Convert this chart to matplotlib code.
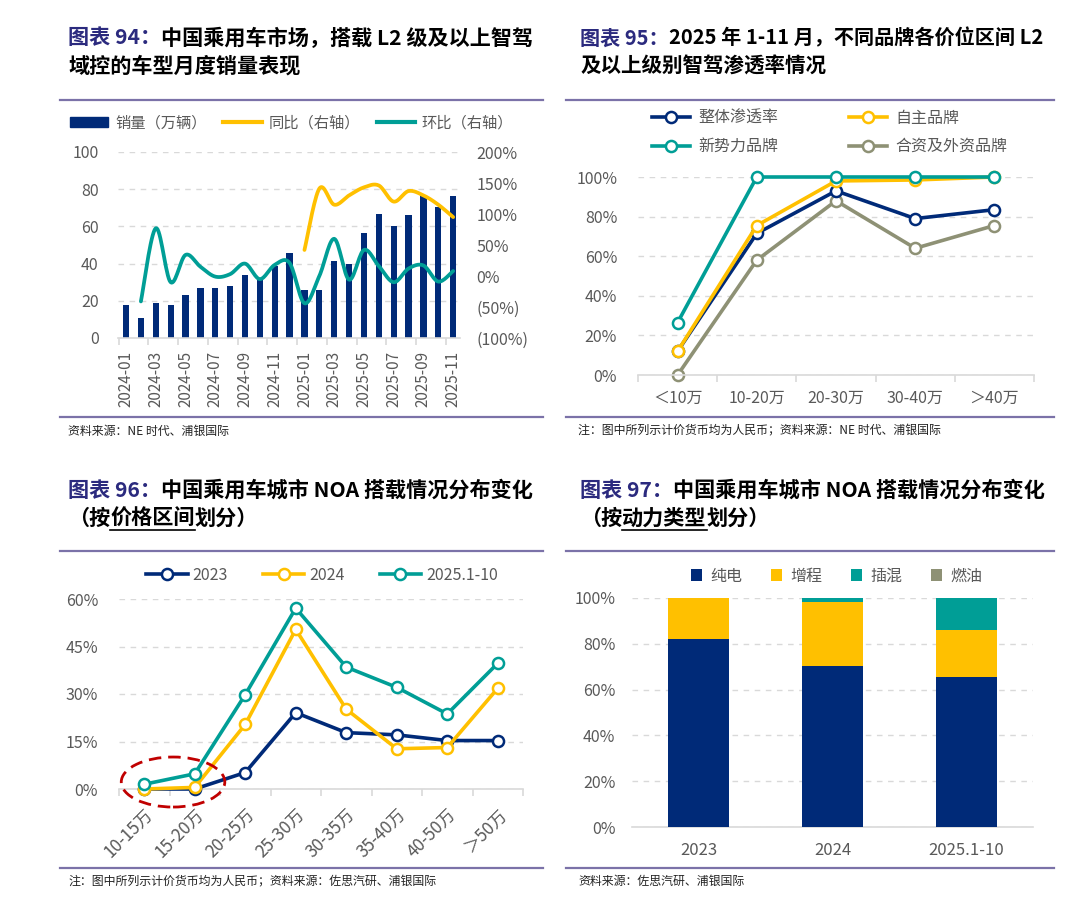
import numpy as np
import matplotlib
matplotlib.use('Agg')
import matplotlib.pyplot as plt
from matplotlib.patches import Ellipse, Patch
from matplotlib.lines import Line2D
from matplotlib.ticker import FuncFormatter

plt.rcParams['font.family'] = ['Noto Sans CJK SC', 'DejaVu Sans']
plt.rcParams['axes.unicode_minus'] = False

# ---- data: chart 94 (monthly sales, yoy / mom on right axis) ----
months = ['2024-01', '2024-02', '2024-03', '2024-04', '2024-05', '2024-06', '2024-07', '2024-08',
          '2024-09', '2024-10', '2024-11', '2024-12', '2025-01', '2025-02', '2025-03', '2025-04',
          '2025-05', '2025-06', '2025-07', '2025-08', '2025-09', '2025-10', '2025-11']
sales = [18, 11, 19, 17.5, 23, 27, 27, 28, 34, 32, 38.5, 45.5,
         26, 26, 41.5, 40, 56.5, 66.5, 60, 66, 77, 70.5, 76.5]
yoy = [None] * 12 + [42, 141, 115, 130, 143, 146, 120, 137, 130, 115, 95]
mom = [None, -41, 77, -10, 34, 15, -1, 3, 20, -5, 18, 21,
       -44, 0, 60, -6, 42, 16, -10, 12, 17, -9, 8]

# ---- data: chart 95 (L2+ penetration by price band) ----
price_bands = ['＜10万', '10-20万', '20-30万', '30-40万', '＞40万']
overall = [12, 71.5, 93, 79, 83.5]
domestic = [12, 75.5, 98, 98.5, 100]
new_forces = [26.5, 100, 100, 100, 100]
jv_foreign = [0, 58, 88, 64, 75.5]

# ---- data: chart 96 (city NOA by price range) ----
price_ranges = ['10-15万', '15-20万', '20-25万', '25-30万', '30-35万', '35-40万', '40-50万', '＞50万']
noa_2023 = [0, 0, 5.2, 24.1, 17.8, 17.1, 15.3, 15.3]
noa_2024 = [0, 0.5, 20.4, 50.4, 25.2, 12.7, 13.1, 31.8]
noa_2025 = [1.5, 4.8, 29.8, 57.1, 38.5, 32.1, 23.7, 39.7]

# ---- data: chart 97 (city NOA by powertrain) ----
periods = ['2023', '2024', '2025.1-10']
bev = [82.1, 70.3, 65.5]
erev = [17.9, 28.0, 20.4]
phev = [0, 1.7, 13.9]
ice = [0, 0, 0.2]

NAVY = '#002A78'
YELLOW = '#FFC000'
TEAL = '#009E96'
OLIVE = '#8E9175'
GRID = '#D9D9D9'
TICK = '#595959'
TITLE_BLUE = '#2B2A7E'
SEP = '#7B72A8'

W, H = 1080, 923
fig = plt.figure(figsize=(W / 100, H / 100), dpi=100)
fig.patch.set_facecolor('white')


def rect(l, t, r, b):
    return [l / W, 1 - b / H, (r - l) / W, (b - t) / H]


def hline(x0, x1, y, color=SEP, lw=1.6):
    fig.add_artist(Line2D([x0 / W, x1 / W], [1 - y / H] * 2, color=color, lw=lw))


def put_title(x, y, parts, size=15.2):
    r = fig.canvas.get_renderer()
    for s, color, under in parts:
        t = fig.text(x / W, 1 - y / H, s, fontsize=size, fontweight='bold', color=color,
                     va='center', ha='left')
        bb = t.get_window_extent(r)
        if under:
            hline(x, x + bb.width, y + 12, color=color, lw=1.2)
        x += bb.width


def footer(x, y, s):
    fig.text(x / W, 1 - y / H, s, fontsize=8.6, color='#222222', va='center', ha='left')


def smooth(x, y, n=16):
    # catmull-rom curve through the points, like excel's smoothed line
    p = np.column_stack([np.asarray(x, float), np.asarray(y, float)])
    p = np.vstack([p[0], p, p[-1]])
    t = np.linspace(0, 1, n, endpoint=False)[:, None]
    out = []
    for i in range(1, len(p) - 2):
        p0, p1, p2, p3 = p[i - 1], p[i], p[i + 1], p[i + 2]
        out.append(0.5 * (2 * p1 + (-p0 + p2) * t + (2 * p0 - 5 * p1 + 4 * p2 - p3) * t ** 2
                          + (-p0 + 3 * p1 - 3 * p2 + p3) * t ** 3))
    out.append(p[-2][None, :])
    out = np.vstack(out)
    return out[:, 0], out[:, 1]


def style_axes(ax):
    for s in ['top', 'right', 'left']:
        ax.spines[s].set_visible(False)
    ax.spines['bottom'].set_color(GRID)
    ax.spines['bottom'].set_linewidth(1.2)
    ax.grid(axis='y', color=GRID, lw=1, linestyle=(0, (4, 4)))
    ax.set_axisbelow(True)
    ax.tick_params(axis='y', length=0, colors=TICK, labelsize=11.5)
    ax.tick_params(axis='x', which='major', length=0, colors=TICK, labelsize=11.5)
    ax.tick_params(axis='x', which='minor', length=5, color=GRID, width=1.2)


pct = FuncFormatter(lambda v, _: f'{v:.0f}%')

# ============ chart 94 ============
put_title(68, 38, [('图表 94：', TITLE_BLUE, False), ('中国乘用车市场，搭载 L2 级及以上智驾', 'black', False)])
put_title(68, 66, [('域控的车型月度销量表现', 'black', False)])
hline(60, 543, 100)
hline(60, 543, 417)
footer(68, 431, '资料来源：NE 时代、浦银国际')

ax1 = fig.add_axes(rect(118, 152, 460, 338))
x1 = np.arange(len(months))
ax1.bar(x1, sales, width=0.42, color=NAVY, label='销量（万辆）')
ax1.set_xlim(-0.54, len(months) - 0.54)
ax1.set_ylim(0, 100)
ax1.set_yticks(np.arange(0, 101, 20))
style_axes(ax1)
ax1.tick_params(axis='y', pad=14)
ax1.set_xticks(x1[::2], months[::2], rotation=90)
ax1.set_xticks(np.arange(-0.5, len(months) - 1, 2), minor=True)
ax1.tick_params(axis='x', which='major', pad=9, labelsize=11)

ax1r = ax1.twinx()
ax1r.set_ylim(-100, 200)
ax1r.set_yticks(np.arange(-100, 201, 50))
ax1r.yaxis.set_major_formatter(FuncFormatter(lambda v, _: f'({abs(v):.0f}%)' if v < 0 else f'{v:.0f}%'))
for s in ax1r.spines.values():
    s.set_visible(False)
ax1r.tick_params(axis='y', length=0, colors=TICK, labelsize=11.5, pad=12)
for vals, color, name in [(yoy, YELLOW, '同比（右轴）'), (mom, TEAL, '环比（右轴）')]:
    v = np.array(vals, dtype=float)
    ok = ~np.isnan(v)
    sx, sy = smooth(x1[ok], v[ok])
    ax1r.plot(sx, sy, color=color, lw=2.7, label=name, solid_capstyle='round')

h1 = [Patch(color=NAVY), Line2D([], [], color=YELLOW, lw=3), Line2D([], [], color=TEAL, lw=3)]
fig.legend(h1, ['销量（万辆）', '同比（右轴）', '环比（右轴）'], loc='center left',
           bbox_to_anchor=(70 / W, 1 - 123 / H), ncol=3, frameon=False, fontsize=11,
           labelcolor=TICK, handlelength=2.5, handleheight=0.65, handletextpad=0.45,
           columnspacing=1.1, borderpad=0, borderaxespad=0)

# ============ chart 95 ============
put_title(580, 38, [('图表 95：', TITLE_BLUE, False), ('2025 年 1-11 月，不同品牌各价位区间 L2', 'black', False)],
          size=14.5)
put_title(580, 66, [('及以上级别智驾渗透率情况', 'black', False)], size=14.8)
hline(566, 1054, 100)
hline(566, 1054, 417)
footer(578, 431, '注：图中所列示计价货币均为人民币；资料来源：NE 时代、浦银国际')

ax2 = fig.add_axes(rect(638, 177, 1034, 375))
x2 = np.arange(len(price_bands))
series2 = [(jv_foreign, OLIVE, '合资及外资品牌'), (overall, NAVY, '整体渗透率'),
           (domestic, YELLOW, '自主品牌'), (new_forces, TEAL, '新势力品牌')]
lines2 = {}
for vals, color, name in series2:
    ln, = ax2.plot(x2, vals, color=color, lw=2.6, marker='o', ms=8, mfc='white', mec=color,
                   mew=1.8, clip_on=False, label=name)
    lines2[name] = ln
ax2.set_xlim(-0.5, len(price_bands) - 0.5)
ax2.set_ylim(0, 100)
ax2.set_yticks(np.arange(0, 101, 20))
ax2.yaxis.set_major_formatter(pct)
style_axes(ax2)
ax2.tick_params(axis='y', pad=15)
ax2.set_xticks(x2, price_bands)
ax2.set_xticks(np.arange(-0.5, len(price_bands)), minor=True)
ax2.tick_params(axis='x', which='major', pad=11, labelsize=11.5)
order2 = ['整体渗透率', '新势力品牌', '自主品牌', '合资及外资品牌']
fig.legend([lines2[k] for k in order2], order2, loc='upper left',
           bbox_to_anchor=(652 / W, 1 - 110 / H), ncol=2, frameon=False, fontsize=11.5,
           labelcolor=TICK, handlelength=2.4, handletextpad=0.5, columnspacing=4.4,
           labelspacing=0.7, borderpad=0, borderaxespad=0)

# ============ chart 96 ============
put_title(68, 490, [('图表 96：', TITLE_BLUE, False), ('中国乘用车城市 NOA 搭载情况分布变化', 'black', False)])
put_title(68, 518, [('（按', 'black', False), ('价格区间', 'black', True), ('划分）', 'black', False)])
hline(60, 543, 551)
hline(60, 543, 868)
footer(68, 882, '注：图中所列示计价货币均为人民币；资料来源：佐思汽研、浦银国际')

ax3 = fig.add_axes(rect(119, 599, 523, 789))
x3 = np.arange(len(price_ranges))
for vals, color, name, z in [(noa_2023, NAVY, '2023', 3), (noa_2024, YELLOW, '2024', 4),
                             (noa_2025, TEAL, '2025.1-10', 5)]:
    ax3.plot(x3, vals, color=color, lw=2.6, marker='o', ms=8, mfc='white', mec=color,
             mew=1.8, clip_on=False, label=name, zorder=z)
ax3.set_xlim(-0.5, len(price_ranges) - 0.5)
ax3.set_ylim(0, 60)
ax3.set_yticks(np.arange(0, 61, 15))
ax3.yaxis.set_major_formatter(pct)
style_axes(ax3)
ax3.tick_params(axis='y', pad=15)
ax3.set_xticks(x3, price_ranges, rotation=45, ha='right', rotation_mode='anchor')
ax3.set_xticks(np.arange(-0.5, len(price_ranges)), minor=True)
ax3.tick_params(axis='x', which='major', pad=12, labelsize=12.3)
# red dashed ring around the two lowest bands
ax3.add_patch(Ellipse((np.mean(x3[:2]) + 0.07, 2.2), 2.05, 15.8, fill=False,
                      edgecolor='#C00000', lw=2, linestyle=(0, (4.5, 2.5)), clip_on=False, zorder=6))
ax3.legend(loc='center left', bbox_to_anchor=(146 / W, 1 - 575 / H), bbox_transform=fig.transFigure,
           ncol=3, frameon=False, fontsize=11.5, labelcolor=TICK, handlelength=2.6,
           handletextpad=0.3, columnspacing=2.2, borderpad=0, borderaxespad=0)

# ============ chart 97 ============
put_title(580, 490, [('图表 97：', TITLE_BLUE, False), ('中国乘用车城市 NOA 搭载情况分布变化', 'black', False)])
put_title(580, 518, [('（按', 'black', False), ('动力类型', 'black', True), ('划分）', 'black', False)])
hline(566, 1054, 551)
hline(566, 1054, 868)
footer(578, 881, '资料来源：佐思汽研、浦银国际')

ax4 = fig.add_axes(rect(632, 598, 1033, 827))
x4 = np.arange(len(periods))
bottom = np.zeros(len(periods))
for vals, color, name in [(bev, NAVY, '纯电'), (erev, YELLOW, '增程'), (phev, TEAL, '插混'), (ice, OLIVE, '燃油')]:
    ax4.bar(x4, vals, bottom=bottom, width=0.455, color=color, label=name, zorder=3)
    bottom += np.array(vals)
ax4.set_xlim(-0.5, len(periods) - 0.5)
ax4.set_ylim(0, 100)
ax4.set_yticks(np.arange(0, 101, 20))
ax4.yaxis.set_major_formatter(pct)
style_axes(ax4)
ax4.tick_params(axis='y', pad=12)
ax4.set_xticks(x4, periods)
ax4.tick_params(axis='x', which='major', pad=11, labelsize=12)
ax4.legend(loc='center left', bbox_to_anchor=(691 / W, 1 - 576 / H), bbox_transform=fig.transFigure,
           ncol=4, frameon=False, fontsize=11.5, labelcolor=TICK, handlelength=0.7,
           handleheight=0.7, handletextpad=0.5, columnspacing=1.8, borderpad=0, borderaxespad=0)

fig.savefig('out.png', dpi=100, facecolor='white')
